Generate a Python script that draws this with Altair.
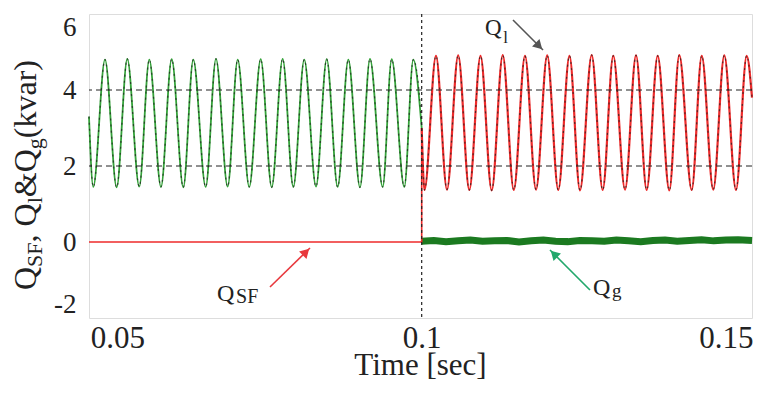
import altair as alt
import pandas as pd

# ---------------- data ----------------
# Q_l extremes before the switching instant (Q_g follows Q_l)
green_peak_t = [0.04795, 0.05161, 0.05523, 0.05891, 0.06246, 0.06619, 0.06976, 0.07354,
                0.07715, 0.08070, 0.08439, 0.08794, 0.09150, 0.09507, 0.09862]
green_peak_v = [4.80, 4.82, 4.80, 4.81, 4.80, 4.82, 4.80, 4.81, 4.82, 4.80, 4.81, 4.80, 4.82, 4.81, 4.80]
green_trough_t = [0.04602, 0.04987, 0.05358, 0.05715, 0.06082, 0.06450, 0.06811, 0.07166,
                  0.07535, 0.07890, 0.08263, 0.08619, 0.08986, 0.09359, 0.09714]
green_trough_v = [1.45, 1.44, 1.46, 1.45, 1.44, 1.45, 1.46, 1.45, 1.44, 1.45, 1.46, 1.45, 1.44, 1.45, 1.45]

# Q_l extremes after the switching instant (Q_SF follows Q_l)
red_peak_t = [0.10235, 0.10600, 0.10967, 0.11332, 0.11698, 0.12063, 0.12429, 0.12794,
              0.13149, 0.13523, 0.13879, 0.14234, 0.14603, 0.14974, 0.15342]
red_peak_v = [4.90, 4.91, 4.90, 4.92, 4.90, 4.91, 4.90, 4.92, 4.90, 4.91, 4.90, 4.92, 4.90, 4.91, 4.90]
red_trough_t = [0.10046, 0.10416, 0.10783, 0.11151, 0.11514, 0.11879, 0.12245, 0.12602,
                0.12975, 0.13342, 0.13698, 0.14070, 0.14438, 0.14792, 0.15166]
red_trough_v = [1.37, 1.38, 1.37, 1.36, 1.37, 1.38, 1.37, 1.36, 1.37, 1.38, 1.37, 1.36, 1.37, 1.38, 1.37]

t_start, v_start = 0.04532, 3.30
t_switch, v_switch = 0.1, 3.00
t_end, v_end = 0.15429, 3.80

# Q_g after compensation starts (thick band around zero)
qg_band_t = [0.1000, 0.1020, 0.1040, 0.1060, 0.1080, 0.1100, 0.1120, 0.1140, 0.1160, 0.1180,
             0.1200, 0.1220, 0.1240, 0.1260, 0.1280, 0.1300, 0.1320, 0.1340, 0.1360, 0.1380,
             0.1400, 0.1420, 0.1440, 0.1460, 0.1480, 0.1500, 0.1520, 0.1543]
qg_band_v = [0.02, 0.04, 0.01, 0.03, 0.05, 0.02, 0.03, 0.04, 0.00, 0.03, 0.05, 0.02, 0.01, 0.04,
             0.03, 0.02, 0.05, 0.03, 0.01, 0.04, 0.05, 0.02, 0.04, 0.06, 0.03, 0.05, 0.06, 0.04]

x_ticks = [0.05, 0.1, 0.15]
y_ticks = [-2, 0, 2, 4, 6]
h_grid = [2, 4]
v_grid = [0.1]

FONT = "Liberation Serif"
RED = "#ee2b2b"
GREEN = "#35a33a"
DKGREEN = "#1b7a20"
INK = "#222222"

# ---------------- frames ----------------
pre = sorted(list(zip(green_peak_t, green_peak_v)) + list(zip(green_trough_t, green_trough_v))
             + [(t_start, v_start), (t_switch, v_switch)])
post = sorted(list(zip(red_peak_t, red_peak_v)) + list(zip(red_trough_t, red_trough_v))
              + [(t_switch, v_switch), (t_end, v_end)])
df_pre = pd.DataFrame(pre, columns=["t", "v"])
df_post = pd.DataFrame(post, columns=["t", "v"])
df_ql = pd.DataFrame(pre + post[1:], columns=["t", "v"])
df_band = pd.DataFrame({"t": qg_band_t, "v": qg_band_v})
df_sf0 = pd.DataFrame({"t": [t_start, t_switch, t_switch], "v": [0, 0, v_switch], "i": [0, 1, 2]})

xs = alt.Scale(domain=[t_start, t_end], nice=False, zero=False)
ys = alt.Scale(domain=[-2, 6], nice=False, zero=False)

xaxis = alt.Axis(values=x_ticks, labelExpr="'' + datum.value", labelFont=FONT, labelFontSize=31,
                 labelColor=INK, ticks=False, tickSize=0, domain=False, grid=False, labelPadding=5,
                 labelFlush=False, title="Time [sec]", titleFont=FONT, titleFontSize=31,
                 titleFontWeight="normal", titleColor=INK, titleX=331, titleY=56,
                 titleBaseline="alphabetic", titleAlign="center")
yaxis = alt.Axis(values=y_ticks, labelExpr="'' + datum.value", labelFont=FONT, labelFontSize=27,
                 labelColor=INK, ticks=False, tickSize=0, domain=False, grid=False, labelPadding=13,
                 labelFlush=True, title=None)


def X(f="t"):
    return alt.X(f + ":Q", scale=xs, axis=xaxis)


def Y(f="v"):
    return alt.Y(f + ":Q", scale=ys, axis=yaxis)


green_wave = alt.Chart(df_pre).mark_line(color=GREEN, strokeWidth=1.8, interpolate="monotone").encode(x=X(), y=Y())
green_band = alt.Chart(df_band).mark_line(color=DKGREEN, strokeWidth=7).encode(x=X(), y=Y())
red_zero = alt.Chart(df_sf0).mark_line(color=RED, strokeWidth=1.6).encode(x=X(), y=Y(), order="i:Q")
red_wave = alt.Chart(df_post).mark_line(color=RED, strokeWidth=2.2, interpolate="monotone").encode(x=X(), y=Y())
ql_dash = alt.Chart(df_ql).mark_line(color=INK, strokeWidth=1.2, strokeDash=[2, 4], opacity=0.75,
                                     interpolate="monotone").encode(x=X(), y=Y())

hg = alt.Chart(pd.DataFrame({"v": h_grid})).mark_rule(color=INK, strokeWidth=1, strokeDash=[6, 4]).encode(y=Y())
vg = alt.Chart(pd.DataFrame({"t": v_grid})).mark_rule(color=INK, strokeWidth=1.2, strokeDash=[3, 3]).encode(x=X())

# ---------------- annotations ----------------
arrows = pd.DataFrame({
    "t1": [0.07507, 0.12766, 0.11501],
    "v1": [-1.184, -1.263, 5.842],
    "t2": [0.08164, 0.12109, 0.11994],
    "v2": [-0.158, -0.211, 5.053],
    "c": ["#e8383d", "#22a86c", "#555555"],
})
arrow_lines = alt.Chart(arrows).mark_rule(strokeWidth=1.6).encode(
    x=X("t1"), y=Y("v1"), x2="t2:Q", y2="v2:Q", color=alt.Color("c:N", scale=None))


def head(i, ang, dx, dy):
    d = arrows.iloc[[i]]
    return alt.Chart(d).mark_point(shape="triangle-up", filled=True, size=110, opacity=1,
                                   angle=ang, xOffset=dx, yOffset=dy, color=d["c"].iloc[0]).encode(
        x=X("t2"), y=Y("v2"))


heads = head(0, 45, -4, 4) + head(1, 315, 4, 4) + head(2, 135, -4, -4)

lab_main = pd.DataFrame({"t": [0.06635, 0.12816, 0.11040], "v": [-1.553, -1.395, 5.447],
                         "s": [24, 24, 23], "txt": ["Q", "Q", "Q"]})
lab_sub = pd.DataFrame({"t": [0.06950, 0.13130, 0.11340], "v": [-1.605, -1.46, 5.237],
                        "s": [20, 19, 17], "txt": ["SF", "g", "l"]})
labels = alt.Chart(pd.concat([lab_main, lab_sub])).mark_text(font=FONT, color=INK, align="left",
                                                               baseline="alphabetic").encode(
    x=X(), y=Y(), text="txt:N", size=alt.Size("s:Q", scale=None))

# y-axis title with subscripts (rotated)
WID = {"Q": .722, "S": .556, "F": .556, ",": .25, " ": .25, "l": .278, "&": .778, "g": .5,
       "(": .333, "k": .5, "v": .5, "a": .444, "r": .333, ")": .333}
MAIN, SUB = 32, 22
segs = [("Q", MAIN), ("SF", SUB), (", Q", MAIN), ("l", SUB), ("&Q", MAIN), ("g", SUB), ("(kvar)", MAIN)]
ytitle = []
pos = 276.0
for s, f in segs:
    xb = -53 if f == MAIN else -47
    ytitle.append(alt.Chart(pd.DataFrame({"a": [0]})).mark_text(
        text=s, font=FONT, fontSize=f, color=INK, angle=270, align="left", baseline="alphabetic").encode(
        x=alt.value(xb), y=alt.value(pos)))
    pos -= sum(WID[c] for c in s) * f

chart = alt.layer(green_wave, green_band, red_zero, red_wave, ql_dash, hg, vg,
                  arrow_lines, heads, labels, *ytitle).properties(
    width=663, height=304,
    padding={"left": 89, "top": 14, "right": 9, "bottom": 80},
    autosize=alt.AutoSizeParams(type="none"),
    background="white",
).configure_view(stroke="#333333", strokeWidth=1.6).configure_axis(
    labelFont=FONT, titleFont=FONT
).configure(font=FONT)

chart.save("out.html", embed_options={"renderer": "svg", "actions": False})
